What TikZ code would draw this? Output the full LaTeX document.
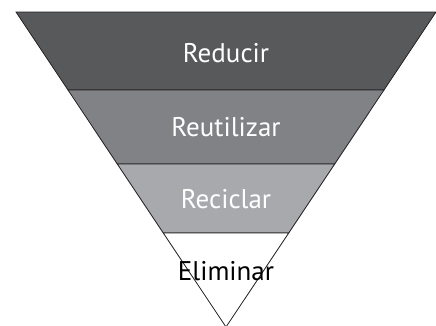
\documentclass[tikz,border=0pt]{standalone}
\usepackage{fontspec}
\setmainfont{PT Sans}
\usetikzlibrary{positioning}
\definecolor{tierDark}{HTML}{58595B}
\definecolor{tierMid}{HTML}{808285}
\definecolor{tierLight}{HTML}{A7A9AC}
\definecolor{tierLine}{HTML}{231F20}

\begin{document}
\begin{tikzpicture}[x=1pt,y=-1pt,
  tier/.style={draw=tierLine,line width=0.8pt,line join=miter},
  tiertext/.style={anchor=base,font=\fontsize{27}{30}\selectfont}]
  \useasboundingbox (0,0) rectangle (436,325);
  \filldraw[tier,fill=tierDark]  (16,12) -- (436,12) -- (384,90) -- (68,90) -- cycle ;       %Top tier
  \filldraw[tier,fill=tierMid]   (68,90) -- (384,90) -- (334.7,164) -- (117.3,164) -- cycle ; %Second tier
  \filldraw[tier,fill=tierLight] (117.3,164) -- (334.7,164) -- (288.7,233) -- (163.3,233) -- cycle ; %Third tier
  \filldraw[tier,fill=white]     (163.3,233) -- (288.7,233) -- (226,327) -- cycle ;        %Bottom tip
  \node[tiertext,text=white] (reduce)    at (226,62)  {Reducir};
  \node[tiertext,text=white] (reuse)     at (226,136) {Reutilizar};
  \node[tiertext,text=white] (recycle)   at (226,208) {Reciclar};
  \node[tiertext,text=black] (eliminate) at (226,280) {Eliminar};
\end{tikzpicture}
\end{document}
